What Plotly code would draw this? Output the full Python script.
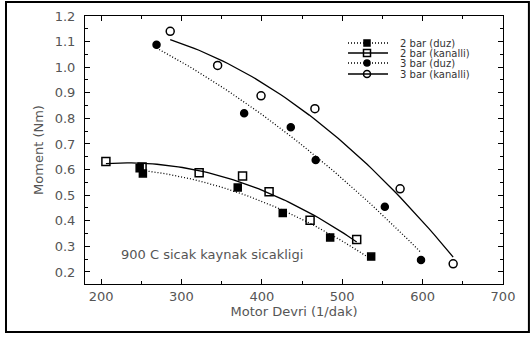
import numpy as np
import plotly.graph_objects as go

# Data
x_2bar_duz = [248, 252, 370, 426, 485, 536]
y_2bar_duz = [0.605, 0.585, 0.530, 0.430, 0.335, 0.260]

x_2bar_kan = [206, 251, 322, 376, 409, 460, 518]
y_2bar_kan = [0.632, 0.610, 0.588, 0.575, 0.513, 0.402, 0.327]

x_3bar_duz = [269, 378, 436, 467, 553, 598]
y_3bar_duz = [1.088, 0.820, 0.765, 0.637, 0.455, 0.247]

x_3bar_kan = [286, 345, 399, 466, 572, 638]
y_3bar_kan = [1.140, 1.007, 0.888, 0.838, 0.525, 0.232]

series_names = ["2 bar (duz)", "2 bar (kanalli)", "3 bar (duz)", "3 bar (kanalli)"]
annotation_text = "900 C sicak kaynak sicakligi"

DOT = "1px,2px"
FONT = "DejaVu Sans, Verdana, sans-serif"
GREY = "#555"

series = [
    (series_names[0], x_2bar_duz, y_2bar_duz, "square", DOT, 7),
    (series_names[1], x_2bar_kan, y_2bar_kan, "square-open", "solid", 8),
    (series_names[2], x_3bar_duz, y_3bar_duz, "circle", DOT, 7),
    (series_names[3], x_3bar_kan, y_3bar_kan, "circle-open", "solid", 8),
]

fig = go.Figure()
for name, xs, ys, sym, dash, msize in series:
    # quadratic trend line fitted to the data
    coef = np.polyfit(xs, ys, 2)
    xf = np.linspace(min(xs), max(xs), 60)
    yf = np.polyval(coef, xf)
    fig.add_trace(go.Scatter(x=xf, y=yf, mode="lines",
                             line=dict(color="black", width=1.3, dash=dash),
                             showlegend=False, hoverinfo="skip"))
    fig.add_trace(go.Scatter(x=xs, y=ys, mode="markers",
                             marker=dict(symbol=sym, size=msize, color="black",
                                         line=dict(color="black", width=1.5)),
                             showlegend=False))

# Compact legend drawn on an overlay axis measured in pixels of the plot area
leg_rows = [43, 53, 63, 74]
leg_x0, leg_xm, leg_x1, leg_tx = 348, 367, 388, 398
for (name, xs, ys, sym, dash, msize), ry in zip(series, leg_rows):
    fig.add_trace(go.Scatter(x=[leg_x0, leg_xm, leg_x1], y=[ry, ry, ry],
                             xaxis="x2", yaxis="y2", mode="lines",
                             line=dict(color="black", width=1.3, dash=dash),
                             showlegend=False, hoverinfo="skip"))
    fig.add_trace(go.Scatter(x=[leg_xm], y=[ry], xaxis="x2", yaxis="y2",
                             mode="markers",
                             marker=dict(symbol=sym, size=msize - 1, color="black",
                                         line=dict(color="black", width=1.5)),
                             showlegend=False, hoverinfo="skip"))
    fig.add_annotation(x=leg_tx, y=ry, xref="x2", yref="y2", text=name,
                       showarrow=False, xanchor="left", yanchor="middle",
                       font=dict(size=10, color="#333", family=FONT))

fig.add_annotation(x=222, y=0.268, xref="x", yref="y", text=annotation_text,
                   showarrow=False, xanchor="left", yanchor="middle",
                   font=dict(size=13, color=GREY, family=FONT))

# outer frame
fig.add_shape(type="rect", xref="paper", yref="paper",
              x0=-0.189, x1=1.062, y0=-0.179, y1=1.052,
              line=dict(color="black", width=2), fillcolor="rgba(0,0,0,0)")

axis_common = dict(showgrid=False, zeroline=False, showline=True, linecolor="black",
                   linewidth=1, mirror="ticks", ticks="inside", ticklen=5,
                   tickcolor="black", automargin=False,
                   tickfont=dict(size=13, color=GREY, family=FONT))

fig.update_xaxes(range=[180, 700], dtick=100, tick0=0,
                 minor=dict(dtick=50, ticks="inside", ticklen=3, tickcolor="black"),
                 title=dict(text="Motor Devri (1/dak)",
                            font=dict(size=13, color=GREY, family=FONT), standoff=4),
                 **axis_common)
fig.update_yaxes(range=[0.153, 1.2], dtick=0.1, tick0=0, tickformat=".1f",
                 ticklabelstandoff=6,
                 minor=dict(dtick=0.05, ticks="inside", ticklen=3, tickcolor="black"),
                 title=dict(text="Moment (Nm)",
                            font=dict(size=13, color=GREY, family=FONT), standoff=8),
                 **axis_common)

fig.update_layout(
    width=531, height=340,
    margin=dict(l=85, r=28, t=16, b=56, autoexpand=False),
    paper_bgcolor="white", plot_bgcolor="white",
    font=dict(family=FONT, color=GREY),
    showlegend=False,
    xaxis2=dict(overlaying="x", range=[85, 503], visible=False, fixedrange=True),
    yaxis2=dict(overlaying="y", range=[284, 16], visible=False, fixedrange=True),
)

fig.write_html("out.html", config={"displayModeBar": False},
               post_script="document.body.style.margin='0';document.body.style.overflow='hidden';")
